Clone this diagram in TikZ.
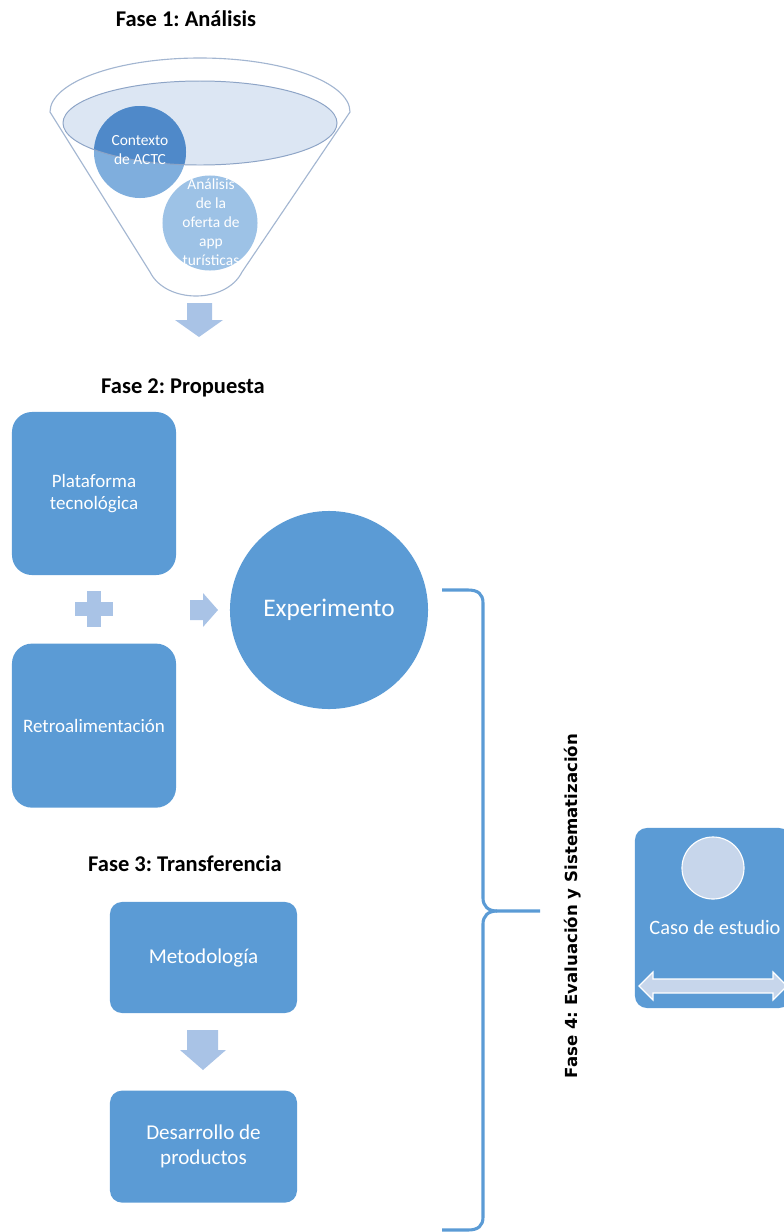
\documentclass[tikz,border=0pt]{standalone}
\usepackage{fontspec}
\setmainfont{Carlito}
\newfontfamily\verdfont{DejaVu Sans}
\usetikzlibrary{positioning, calc}
\frenchspacing

\definecolor{offblue}{HTML}{5B9BD5}
\definecolor{paleblue}{HTML}{A9C3E6}
\definecolor{rimline}{HTML}{A3B6D1}
\definecolor{innerfill}{HTML}{DCE6F3}
\definecolor{innerline}{HTML}{8DA4C6}
\definecolor{ctxdark}{HTML}{4F89C9}
\definecolor{ctxlight}{HTML}{7FAEDD}
\definecolor{anafill}{HTML}{9DC2E6}
\definecolor{casepale}{HTML}{C7D6EB}

\tikzset{
  phase/.style = {font=\bfseries\fontsize{16}{19}\selectfont},
  block/.style = {fill=offblue, text=white, align=center, inner sep=0pt,
    rounded corners=0.3cm, font=\fontsize{13.5}{16}\selectfont},
  bubble/.style = {circle, inner sep=0pt},
  bubbletext/.style = {text=white, align=center, font=\fontsize{11}{13.5}\selectfont}
}

\begin{document}
\begin{tikzpicture}[x=0.025cm, y=-0.025cm]
\useasboundingbox (0,0) rectangle (784,1232);
\clip (0,0) rectangle (784,1232);

% fase 1: funnel
\node[phase] (fase1) at (186,19) {Fase 1: Análisis};
\draw[rimline, fill=white, line width=0.8pt] (50,112)
  arc[start angle=180, end angle=360, x radius=150, y radius=54]
  -- (242,272) .. controls (226,304) and (166,304) .. (150,272) -- cycle;
\fill[innerfill] (200,123) ellipse [x radius=137, y radius=42];
\node[bubble, fill=ctxlight, minimum size=2.3cm] (ctx) at (140,152) {};
\begin{scope}
  \clip (200,123) ellipse [x radius=137, y radius=42];
  \fill[ctxdark] (ctx.center) circle (46);
\end{scope}
\draw[innerline, line width=0.7pt] (200,123) ellipse [x radius=137, y radius=42];
\node[bubble, fill=anafill, minimum size=2.375cm] (ana) at (210,223) {};
\node[bubbletext] (ctx-text) at (140,150) {Contexto\\de ACTC};
\node[bubbletext] (ana-text) at (211,222) {Análisis\\de la\\oferta de\\app\\turísticas};

% arrow down to fase 2
\coordinate (down1) at (199,303);
\fill[paleblue] (down1) ++(-12,0) -- ++(25,0) -- ++(0,17) -- ++(11,0)
  -- ++(-24,17) -- ++(-24,-17) -- ++(12,0) -- cycle;

% fase 2
\node[phase] (fase2) at (183,388) {Fase 2: Propuesta};
\node[block, rounded corners=0.5cm, minimum width=4.1cm, minimum height=4.075cm] (plat) at (94,493.5) {Plataforma\\tecnológica};
\node[block, rounded corners=0.5cm, minimum width=4.1cm, minimum height=4.1cm, below = 1.7cm of plat] (retro) {Retroalimentación};
\coordinate (plus) at ($(plat.south)!0.5!(retro.north)$);
\fill[paleblue] (plus) ++(-7,-18) rectangle ++(14,36);
\fill[paleblue] (plus) ++(-19,-7) rectangle ++(38,14);
\node[bubble, fill=offblue, minimum size=4.95cm, text=white, font=\fontsize{18}{21}\selectfont] (exper) at (329,610) {Experimento};
\coordinate (right1) at (190,610);
\fill[paleblue] (right1) ++(0,-10) -- ++(13,0) -- ++(0,-7) -- ++(15,17)
  -- ++(-15,17) -- ++(0,-7) -- ++(-13,0) -- cycle;

% fase 3
\node[phase] (fase3) at (185,864) {Fase 3: Transferencia};
\node[block, minimum width=4.675cm, minimum height=2.775cm, font=\fontsize{15}{17.5}\selectfont] (metod) at (203.5,957.5) {Metodología};
\node[block, minimum width=4.675cm, minimum height=2.8cm, font=\fontsize{15}{17.5}\selectfont, below = 1.925cm of metod] (desarr) {Desarrollo de\\productos};
\coordinate (down2) at (203,1030);
\fill[paleblue] (down2) ++(-16,0) -- ++(31,0) -- ++(0,20) -- ++(8,0)
  -- ++(-23,20) -- ++(-23,-20) -- ++(7,0) -- cycle;

% brace and fase 4
\draw[offblue, line width=2.2pt, line join=round]
  (442,590) -- (468,590) .. controls (478,590) and (483,594) .. (483,603)
  -- (483,898) .. controls (483,906) and (488,911) .. (497,911) -- (540,911);
\draw[offblue, line width=2.2pt, line join=round]
  (497,911) .. controls (488,911) and (483,916) .. (483,924)
  -- (483,1217) .. controls (483,1226) and (478,1230) .. (468,1230) -- (442,1230);
\node[rotate=90, font=\verdfont\bfseries\fontsize{11.8}{14}\selectfont] (fase4) at (573,906) {Fase 4: Evaluación y Sistematización};

% caso de estudio
\node[block, minimum width=3.9cm, minimum height=4.5cm] (caso) at (713,918) {};
\node[bubble, fill=casepale, draw=white, line width=0.8pt, minimum size=1.55cm] (caso-circ) at (713,868) {};
\node[text=white, font=\fontsize{14.5}{17}\selectfont] (caso-text) at (715,927) {Caso de estudio};
\coordinate (dbl) at (639,986);
\filldraw[casepale, draw=white, line width=0.8pt] (dbl) -- ++(14,-14) -- ++(0,7) -- ++(120,0)
  -- ++(0,-7) -- ++(14,14) -- ++(-14,14) -- ++(0,-7) -- ++(-120,0) -- ++(0,7) -- cycle;
\end{tikzpicture}
\end{document}
